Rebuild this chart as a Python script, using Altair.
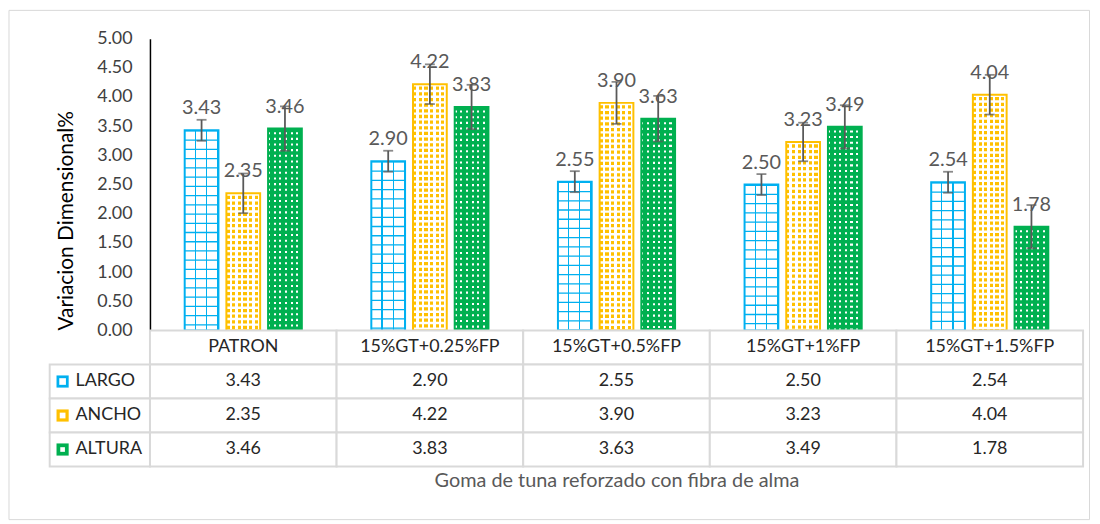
import altair as alt
import pandas as pd

# ---------------- data ----------------
categories = ["PATRON", "15%GT+0.25%FP", "15%GT+0.5%FP", "15%GT+1%FP", "15%GT+1.5%FP"]
series_names = ["LARGO", "ANCHO", "ALTURA"]
largo = [3.43, 2.90, 2.55, 2.50, 2.54]
ancho = [2.35, 4.22, 3.90, 3.23, 4.04]
altura = [3.46, 3.83, 3.63, 3.49, 1.78]
err_largo = [0.18, 0.18, 0.18, 0.18, 0.18]
err_ancho = [0.34, 0.34, 0.36, 0.33, 0.34]
err_altura = [0.38, 0.38, 0.39, 0.37, 0.37]
y_ticks = [0.0, 0.5, 1.0, 1.5, 2.0, 2.5, 3.0, 3.5, 4.0, 4.5, 5.0]
series_colors = ["#00B0F0", "#FFC000", "#00B050"]
y_title = "Variacion Dimensional%"
x_title = "Goma de tuna reforzado con fibra de alma"

values_by_series = {"LARGO": largo, "ANCHO": ancho, "ALTURA": altura}
errors_by_series = {"LARGO": err_largo, "ANCHO": err_ancho, "ALTURA": err_altura}

rows = []
for s in series_names:
    for c, v, e in zip(categories, values_by_series[s], errors_by_series[s]):
        rows.append({"category": c, "series": s, "row": s, "value": v,
                     "lo": round(v - e, 3), "hi": round(v + e, 3)})
df = pd.DataFrame(rows)

FONT = "Lato"
PLOT_W = 940
PLOT_H = 294
STEP = PLOT_W / len(categories)
BAR_W = 34.0
BAR_STEP = 42.0
p_in = (BAR_STEP - BAR_W) / BAR_STEP
p_out = (STEP / BAR_STEP - 3 + p_in) / 2

X = alt.X("category:N", sort=categories,
          scale=alt.Scale(domain=categories, paddingInner=0, paddingOuter=0), axis=None)
XO = alt.XOffset("series:N", sort=series_names,
                 scale=alt.Scale(domain=series_names, paddingInner=p_in, paddingOuter=p_out))
yscale = alt.Scale(domain=[0, 5], nice=False, zero=True)

base = alt.Chart(df).encode(x=X, xOffset=XO)

y_axis = alt.Axis(values=y_ticks, format=".2f", title=y_title, grid=False, ticks=False,
                  domainColor="#000000", domainWidth=1.5, labelFont=FONT, labelFontSize=18,
                  labelColor="#404040", labelPadding=18, titleFont=FONT, titleFontSize=21,
                  titleFontWeight="normal", titleColor="#000000", titlePadding=20, titleY=183)


def Yq(field):
    return alt.Y(field, scale=yscale, axis=y_axis)


fill_layer = base.mark_bar(strokeWidth=0).encode(
    y=Yq("value:Q"),
    fill=alt.Fill("series:N", scale=alt.Scale(domain=series_names,
                  range=["#FFFFFF", "#FFC000", "#FFFFFF"]), legend=None),
)

CLEAR = "rgba(255,255,255,0)"


def stripes(color, n, on_px):
    period = BAR_W / n
    frac = on_px / period
    stops = []
    for k in range(n):
        s0 = k / n
        s1 = (k + frac) / n
        s2 = (k + 1) / n
        stops += [alt.GradientStop(offset=s0, color=CLEAR),
                  alt.GradientStop(offset=s2 - (s1 - s0), color=CLEAR),
                  alt.GradientStop(offset=s2 - (s1 - s0), color=color),
                  alt.GradientStop(offset=s2, color=color)]
    return alt.LinearGradient(gradient="linear", stops=stops, x1=0, x2=1, y1=0, y2=0)


patterns = {
    "LARGO": dict(color="#00B0F0", n=3, on=1.3, dash=[1.3, 8.0]),
    "ANCHO": dict(color="#FFFFFF", n=6, on=2.4, dash=[2.4, 3.3]),
    "ALTURA": dict(color="#00B050", n=6, on=3.6, dash=[3.6, 2.1]),
}

pattern_layers = []
for s in series_names:
    p = patterns[s]
    pattern_layers.append(
        base.mark_bar(fill=stripes(p["color"], p["n"], p["on"]), strokeWidth=0)
        .encode(y=Yq("value:Q"))
        .transform_filter(alt.datum.series == s)
    )
    pattern_layers.append(
        base.mark_rule(strokeWidth=BAR_W, strokeDash=p["dash"], strokeCap="butt", color=p["color"])
        .encode(y=Yq("value:Q"), y2=alt.datum(0))
        .transform_filter(alt.datum.series == s)
    )

outline = base.mark_bar(filled=False, strokeWidth=2).encode(
    y=Yq("value:Q"),
    color=alt.Color("series:N", scale=alt.Scale(domain=series_names, range=series_colors), legend=None),
)

labels = base.mark_text(dy=-16, baseline="alphabetic", fontSize=20, font=FONT, color="#595959").encode(
    y=Yq("value:Q"),
    text=alt.Text("value:Q", format=".2f"),
)

err_rule = base.mark_rule(color="#595959", strokeWidth=1.8).encode(y=Yq("lo:Q"), y2="hi:Q")
cap_lo = base.mark_tick(orient="horizontal", size=10, thickness=1.8, color="#595959").encode(y=Yq("lo:Q"))
cap_hi = base.mark_tick(orient="horizontal", size=10, thickness=1.8, color="#595959").encode(y=Yq("hi:Q"))

# light grey chart-area frame (decoration around the whole figure)
frame = alt.Chart(pd.DataFrame({"frame": [0]})).mark_rect(
    filled=False, stroke="#D9D9D9", strokeWidth=1).encode(
    x=alt.value(-142), x2=alt.value(946.5), y=alt.value(-28.5), y2=alt.value(484.5))

top = alt.layer(frame, fill_layer, *pattern_layers, outline, labels, err_rule, cap_lo, cap_hi).properties(
    width=PLOT_W, height=PLOT_H)

# ---------------- data table ----------------
row_domain = ["hdr"] + series_names
hdr = pd.DataFrame({"category": categories, "row": ["hdr"] * len(categories)})
cells = pd.concat([hdr, df[["category", "row"]]], ignore_index=True)
legend_df = pd.DataFrame({"row": series_names, "series": series_names})

TABLE_H = 137
tscale_x = alt.Scale(domain=categories, paddingInner=0, paddingOuter=0)
tscale_y = alt.Scale(domain=row_domain, paddingInner=0, paddingOuter=0)
TY = alt.Y("row:N", scale=tscale_y, axis=None)
x_axis = alt.Axis(title=x_title, labels=False, ticks=False, domain=False,
                  titleFont=FONT, titleFontSize=20, titleFontWeight="normal",
                  titleColor="#595959", titlePadding=4)
TX = alt.X("category:N", scale=tscale_x, axis=x_axis)
GRID = "#D9D9D9"

cell_rects = alt.Chart(cells).mark_rect(fill="white", stroke=GRID, strokeWidth=2).encode(x=TX, y=TY)
legend_rects = alt.Chart(legend_df).mark_rect(fill="white", stroke=GRID, strokeWidth=2).encode(
    x=alt.value(-101), x2=alt.value(0), y=TY)
hdr_text = alt.Chart(hdr).mark_text(fontSize=18, font=FONT, color="#262626").encode(
    x=TX, y=TY, text="category:N")
val_text = alt.Chart(df).mark_text(fontSize=18, font=FONT, color="#262626").encode(
    x=TX, y=TY, text=alt.Text("value:Q", format=".2f"))
legend_text = alt.Chart(legend_df).mark_text(align="left", fontSize=18, font=FONT, color="#262626").encode(
    x=alt.value(-75), y=TY, text="series:N")
swatch = alt.Chart(legend_df).mark_square(size=150, opacity=1, filled=True).encode(
    x=alt.value(-88), y=TY,
    color=alt.Color("series:N", scale=alt.Scale(domain=series_names, range=series_colors), legend=None))
swatch_in = alt.Chart(legend_df).mark_square(opacity=1, filled=True, color="white").encode(
    x=alt.value(-88), y=TY,
    size=alt.Size("series:N", scale=alt.Scale(domain=series_names, range=[45, 22, 4]), legend=None))

table = alt.layer(cell_rects, legend_rects, hdr_text, val_text, legend_text, swatch, swatch_in).properties(
    width=PLOT_W, height=TABLE_H)

chart = alt.vconcat(top, table, spacing=0, bounds="flush").properties(
    padding={"left": 0, "top": 0, "right": 2, "bottom": 0}
).configure_view(stroke=None)

chart.save("out.html", embed_options={"renderer": "svg", "actions": False})
